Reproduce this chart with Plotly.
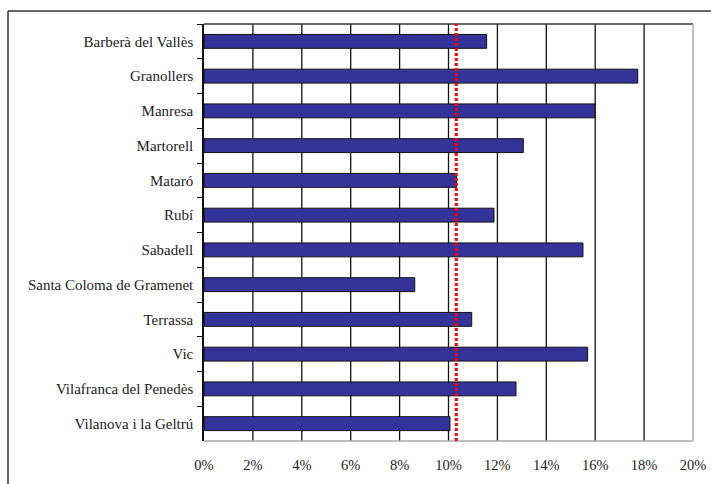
import plotly.graph_objects as go

municipis = ["Barberà del Vallès", "Granollers", "Manresa", "Martorell", "Mataró", "Rubí",
             "Sabadell", "Santa Coloma de Gramenet", "Terrassa", "Vic",
             "Vilafranca del Penedès", "Vilanova i la Geltrú"]
valors = [11.56, 17.74, 15.99, 13.06, 10.33, 11.86, 15.50, 8.62, 10.95, 15.69, 12.76, 10.06]
mitjana = 10.32
x_ticks = [0, 2, 4, 6, 8, 10, 12, 14, 16, 18, 20]
x_labels = [f"{v}%" for v in x_ticks]

fig = go.Figure()
fig.add_trace(go.Bar(
    y=municipis, x=valors, orientation="h", width=0.4,
    marker=dict(color="#333399", line=dict(color="#111111", width=1)),
    hoverinfo="x+y", showlegend=False,
))

# gridlines
for v in x_ticks[1:-1]:
    fig.add_shape(type="line", xref="x", yref="paper", x0=v, x1=v, y0=0, y1=1,
                  line=dict(color="#111111", width=1.3), layer="below")

# plot frame
fig.add_shape(type="line", xref="paper", yref="paper", x0=0, x1=1, y0=1, y1=1,
              line=dict(color="#333333", width=1.5))
fig.add_shape(type="line", xref="paper", yref="paper", x0=1, x1=1, y0=0, y1=1,
              line=dict(color="#aaaaaa", width=1.5))
fig.add_shape(type="line", xref="paper", yref="paper", x0=0, x1=1, y0=0, y1=0,
              line=dict(color="#aaaaaa", width=1.5))

# average line
fig.add_shape(type="line", xref="x", yref="paper", x0=mitjana, x1=mitjana, y0=0, y1=1,
              line=dict(color="#ff0000", width=3, dash="3px,2px"))

# outer frame
fig.add_shape(type="line", xref="paper", yref="paper", x0=-0.4008, x1=1.04, y0=1.0312, y1=1.0312,
              line=dict(color="#333333", width=1.5))
fig.add_shape(type="line", xref="paper", yref="paper", x0=-0.4008, x1=-0.4008, y0=-0.104, y1=1.0312,
              line=dict(color="#333333", width=1.5))

serif = "'Times New Roman', 'Liberation Serif', 'DejaVu Serif', serif"
fig.update_layout(
    width=711, height=484,
    margin=dict(l=204, r=18, t=24, b=43, autoexpand=False),
    paper_bgcolor="white", plot_bgcolor="white",
    font=dict(family=serif, size=15, color="#222222"),
    bargap=0.6,
)
fig.update_xaxes(range=[0, 20], tickvals=x_ticks, ticktext=x_labels, showgrid=False,
                 zeroline=False, showline=False, ticks="", ticklabelstandoff=13,
                 tickfont=dict(size=14.5), automargin=False)
fig.update_yaxes(autorange="reversed", showgrid=False, showline=True, linecolor="#111111",
                 linewidth=1.5, ticks="outside", ticklen=5, tickcolor="#111111",
                 tickson="boundaries", ticklabelstandoff=6, tickfont=dict(size=15),
                 automargin=False)

fig.write_html("out.html", config={"displayModeBar": False},
               post_script="document.body.style.margin='0';document.body.style.overflow='hidden';")
